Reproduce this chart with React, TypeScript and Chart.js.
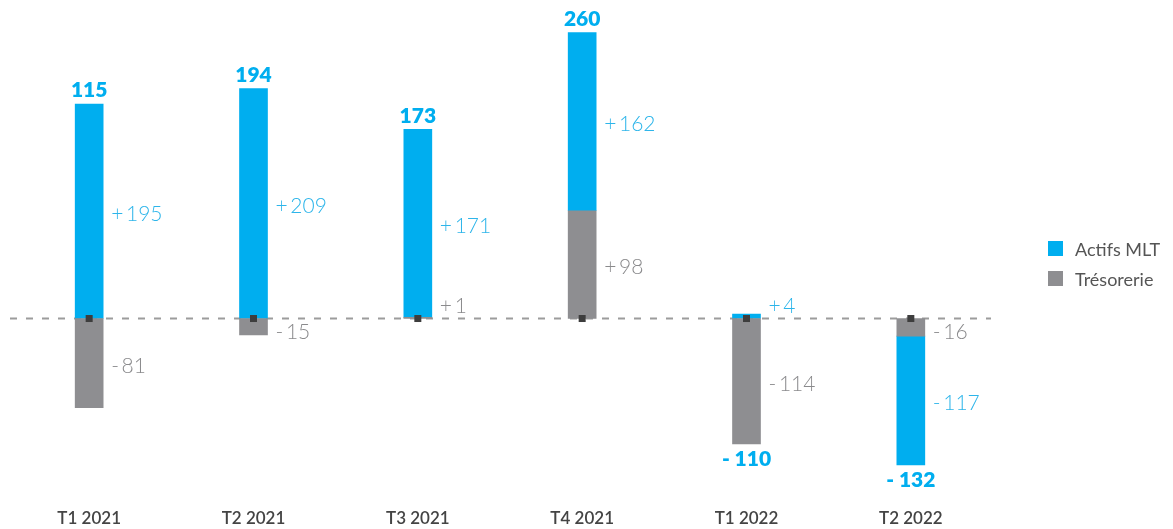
import React, { useEffect, useRef } from "react";
import { Chart, registerables } from "chart.js";

Chart.register(...registerables);

const categories = ["T1 2021", "T2 2021", "T3 2021", "T4 2021", "T1 2022", "T2 2022"];
const actifsMLT = [195, 209, 171, 162, 4, -117];
const tresorerie = [-81, -15, 1, 98, -114, -16];
const totals = [115, 194, 173, 260, -110, -132];

const BLUE = "#00AEEF";
const BLUE_TEXT = "#2DB5EA";
const GRAY = "#8E8E91";
const GRAY_TEXT = "#8A8A8C";
const FONT = "Lato, 'Open Sans', sans-serif";

const fmtSeg = (v: number) => (v >= 0 ? "+\u2009" + v : "-\u2009" + Math.abs(v));
const fmtTot = (v: number) => (v >= 0 ? String(v) : "- " + Math.abs(v));

const overlayPlugin = {
  id: "overlay",
  beforeDatasetsDraw(chart: any) {
    const { ctx, chartArea } = chart;
    const zy = chart.scales.y.getPixelForValue(0);
    ctx.save();
    ctx.strokeStyle = "#9C9C9C";
    ctx.lineWidth = 2;
    ctx.setLineDash([7, 9]);
    ctx.beginPath();
    ctx.moveTo(chartArea.left + 3, zy);
    ctx.lineTo(chartArea.right - 2, zy);
    ctx.stroke();
    ctx.restore();
  },
  afterDatasetsDraw(chart: any) {
    const { ctx } = chart;
    const zy = chart.scales.y.getPixelForValue(0);
    const metaT = chart.getDatasetMeta(0);
    const metaA = chart.getDatasetMeta(1);
    ctx.save();
    categories.forEach((_, i) => {
      const x = metaT.data[i].x;
      let top = zy;
      let bottom = zy;
      const segs = [
        { el: metaT.data[i], v: tresorerie[i], color: GRAY_TEXT },
        { el: metaA.data[i], v: actifsMLT[i], color: BLUE_TEXT },
      ];
      segs.forEach((s) => {
        const a = Math.min(s.el.y, s.el.base);
        const b = Math.max(s.el.y, s.el.base);
        top = Math.min(top, a);
        bottom = Math.max(bottom, b);
        let cy = (s.el.y + s.el.base) / 2 + 3;
        if (s.v >= 0) cy = Math.min(cy, zy - 12);
        else cy = Math.max(cy, zy + 14);
        ctx.font = `300 21px ${FONT}`;
        ctx.fillStyle = s.color;
        ctx.textAlign = "left";
        ctx.textBaseline = "middle";
        ctx.fillText(fmtSeg(s.v), x + 14 + 8, cy);
      });
      const t = totals[i];
      ctx.font = `800 21px ${FONT}`;
      ctx.fillStyle = BLUE;
      ctx.textAlign = "center";
      ctx.textBaseline = "middle";
      if (t >= 0) ctx.fillText(fmtTot(t), x, top - 13.5);
      else ctx.fillText(fmtTot(t), x, bottom + 15.5);
      ctx.fillStyle = "#3D3D3D";
      ctx.fillRect(x - 3.5, zy - 3.5, 7, 7);
    });
    ctx.restore();
  },
};

export default function App() {
  const ref = useRef<HTMLCanvasElement | null>(null);
  useEffect(() => {
    if (!ref.current) return;
    const chart = new Chart(ref.current, {
      type: "bar",
      data: {
        labels: categories,
        datasets: [
          { label: "Trésorerie", data: tresorerie, backgroundColor: GRAY, barThickness: 28, borderWidth: 0 },
          { label: "Actifs MLT", data: actifsMLT, backgroundColor: BLUE, barThickness: 28, borderWidth: 0 },
        ],
      },
      options: {
        animation: false,
        responsive: true,
        maintainAspectRatio: false,
        layout: { padding: { top: 13.5, right: 172, left: 0, bottom: 0 } },
        plugins: { legend: { display: false }, tooltip: { enabled: false } },
        scales: {
          x: {
            stacked: true,
            grid: { display: false, drawTicks: false },
            border: { display: false },
            ticks: { color: "#444", font: { family: FONT, size: 17, weight: "600" }, padding: 0 },
          },
          y: { stacked: true, display: false, min: -172.8, max: 270 },
        },
      },
      plugins: [overlayPlugin],
    });
    return () => chart.destroy();
  }, []);

  const legendItem = (color: string, text: string, top: number) => (
    <div style={{ position: "absolute", left: 1041, top, display: "flex", alignItems: "center", height: 15 }}>
      <div style={{ width: 15, height: 15, background: color, marginRight: 12 }} />
      <span style={{ font: `400 18px ${FONT}`, color: "#555", whiteSpace: "nowrap" }}>{text}</span>
    </div>
  );

  return (
    <div style={{ position: "relative", width: 1158, height: 521, marginLeft: -1 }}>
      <canvas ref={ref} />
      {legendItem(BLUE, "Actifs MLT", 233)}
      {legendItem(GRAY, "Trésorerie", 263)}
    </div>
  );
}
